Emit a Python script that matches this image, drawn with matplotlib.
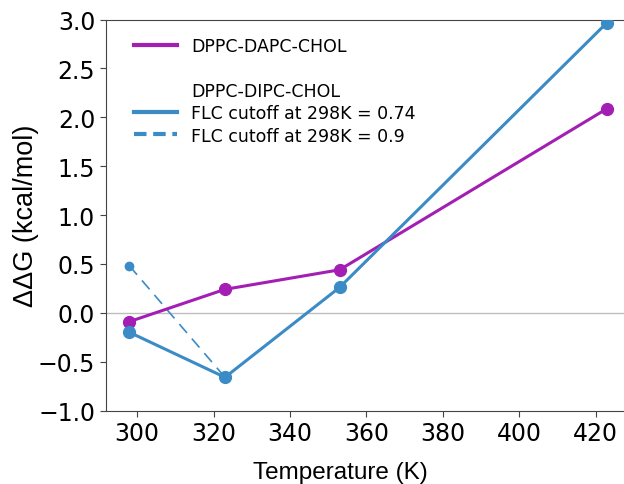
import numpy as np
import matplotlib
matplotlib.use("Agg")
import matplotlib.pyplot as plt
from matplotlib.lines import Line2D

# temperatures (K) and free energy differences (kcal/mol)
temps = [298, 323, 353, 423]
dapc = [-0.09, 0.24, 0.44, 2.09]
dipc_074 = [-0.20, -0.66, 0.26, 2.97]
temps_09 = [298, 323]
dipc_09 = [0.48, -0.66]

magenta = '#a31fb3'
blue = '#3b8bc7'

fig = plt.figure(figsize=(6.24, 4.85), dpi=100)
ax = fig.add_axes([0.1692, 0.1515, 0.842, 0.806])

ax.axhline(0, color='#bdbdbd', lw=1.0, zorder=1)
ax.plot(temps, dapc, color=magenta, lw=2.2, marker='o', ms=8.5, zorder=3)
ax.plot(temps, dipc_074, color=blue, lw=2.2, marker='o', ms=8.5, zorder=3)
ax.plot(temps_09, dipc_09, color=blue, lw=1.2, ls=(0, (7, 4.5)), marker='o', ms=6, zorder=2)

ax.set_xlim(291.75, 429.25)
ax.set_ylim(-1.0, 3.0)
ax.set_xticks(np.arange(300, 421, 20))
ax.set_yticks(np.arange(-1.0, 3.01, 0.5))
ax.tick_params(labelsize=17, length=4, color='#444444')
for s in ax.spines.values():
    s.set_color('#444444')

ax.set_xlabel('Temperature (K)', family='Liberation Sans', fontsize=17.5)
ax.xaxis.set_label_coords(0.446, -0.128)
ax.set_ylabel('ΔΔG (kcal/mol)', family='Liberation Sans', fontsize=19.5, labelpad=-1)

handles = [
    Line2D([], [], color=magenta, lw=3),
    Line2D([], [], ls='none'),
    Line2D([], [], ls='none'),
    Line2D([], [], color=blue, lw=3),
    Line2D([], [], color=blue, lw=3, ls=(0, (3, 1.6))),
]
labels = ['DPPC-DAPC-CHOL', ' ', 'DPPC-DIPC-CHOL',
          'FLC cutoff at 298K = 0.74', 'FLC cutoff at 298K = 0.9']
ax.legend(handles, labels, loc='upper left', bbox_to_anchor=(0.024, 0.995),
          frameon=False, fontsize=12.5, handlelength=2.5, handletextpad=0.8,
          labelspacing=0.25)

fig.savefig('out.png', dpi=100)
